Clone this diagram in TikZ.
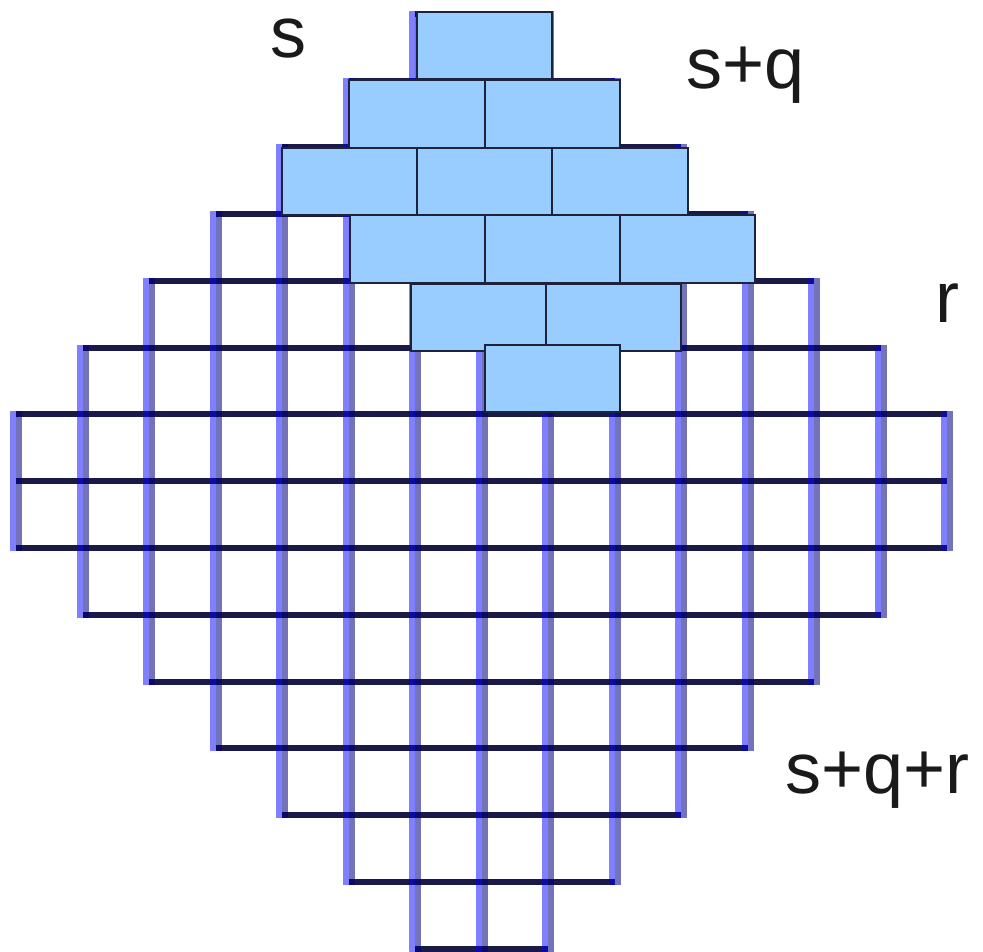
\documentclass[tikz,border=0pt]{standalone}
\usepackage{fontspec}
\setmainfont{Liberation Sans}
\definecolor{hnavy}{RGB}{26,26,72}
\definecolor{vlight}{RGB}{0,0,255}
\definecolor{vdark}{RGB}{0,0,128}
\definecolor{dfill}{RGB}{153,204,255}
\definecolor{dedge}{RGB}{30,35,60}
\definecolor{txt}{RGB}{26,26,26}
\tikzset{
  hline/.style={draw=hnavy,line width=4.5pt},
  vlightline/.style={draw=vlight,draw opacity=0.5,line width=4.5pt},
  vdarkline/.style={draw=vdark,draw opacity=0.55,line width=4.5pt},
  domino/.style={fill=dfill,draw=dedge,line width=1.1pt},
  lab/.style={anchor=base west,inner sep=0pt,outer sep=0pt,text=txt,font=\fontsize{54}{60}\selectfont}
}
\begin{document}
\begin{tikzpicture}[x=0.75pt,y=-0.75pt]
\useasboundingbox (0,0) rectangle (983,952);
% horizontal grid lines
\foreach \j in {0,...,14} {
  \pgfmathtruncatemacro\wa{min(\j-1,14-\j)}
  \pgfmathtruncatemacro\wb{min(\j,13-\j)}
  \pgfmathtruncatemacro\w{max(\wa,\wb)}
  \draw[hline] ({16+66.5*(6-\w)},{14+66.75*\j}) -- ({16+66.5*(8+\w)},{14+66.75*\j});
}
% vertical grid lines
\foreach \k in {0,...,14} {
  \pgfmathtruncatemacro\s{max(0,abs(\k-7)-1)}
  \draw[vlightline] ({16+66.5*\k-3},{14+66.75*\s-3}) -- ({16+66.5*\k-3},{14+66.75*(14-\s)+3});
  \draw[vdarkline] ({16+66.5*\k+3},{14+66.75*\s-3}) -- ({16+66.5*\k+3},{14+66.75*(14-\s)+3});
}
% dominoes
\draw[domino] (417,12) rectangle (552,79);
\draw[domino] (349,80) rectangle (485,148);
\draw[domino] (485,80) rectangle (620,148);
\draw[domino] (282,148) rectangle (417,215);
\draw[domino] (417,148) rectangle (552,215);
\draw[domino] (552,148) rectangle (688,215);
\draw[domino] (350,215) rectangle (485,283);
\draw[domino] (485,215) rectangle (620,283);
\draw[domino] (620,215) rectangle (755,283);
\draw[domino] (411,284) rectangle (546,351);
\draw[domino] (546,284) rectangle (681,351);
\draw[domino] (485,345) rectangle (620,412);
% labels
\node[lab] (ls) at (270,58) {s};
\node[lab] (lsq) at (686,89) {s+q};
\node[lab] (lr) at (935,323) {r};
\node[lab] (lsqr) at (785,793) {s+q+r};
\end{tikzpicture}
\end{document}
